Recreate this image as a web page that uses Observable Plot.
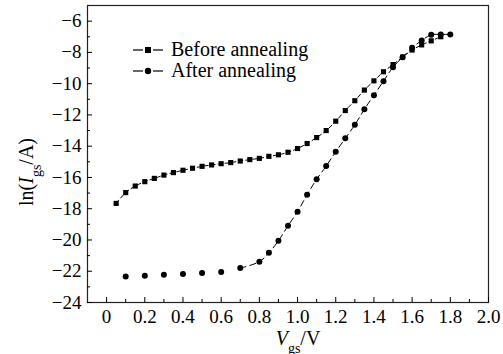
<!DOCTYPE html>
<html>
<head>
<meta charset="utf-8">
<script src="https://cdn.jsdelivr.net/npm/d3@7"></script>
<script src="https://cdn.jsdelivr.net/npm/@observablehq/plot@0.6"></script>
<style>
  html, body { margin: 0; padding: 0; background: #fff; }
  #wrap { position: relative; width: 503px; height: 354px; font-family: "Liberation Serif", "Times New Roman", serif; }
  #legend { position: absolute; left: 133px; top: 39px; font-size: 20px; line-height: 21px; color: #000; }
  #legend .row { display: flex; align-items: center; height: 21px; }
  #legend svg { margin-right: 5px; }
</style>
</head>
<body>
<div id="wrap"></div>
<script>
// Vgs (V) and ln(Igs/A)
const beforeV = [0.05,0.1,0.15,0.2,0.25,0.3,0.35,0.4,0.45,0.5,0.55,0.6,0.65,0.7,0.75,0.8,0.85,0.9,0.95,1.0,1.05,1.1,1.15,1.2,1.25,1.3,1.35,1.4,1.45,1.5,1.55,1.6,1.65,1.7,1.75];
const beforeLn = [-17.66,-16.97,-16.55,-16.27,-16.06,-15.85,-15.69,-15.54,-15.41,-15.29,-15.2,-15.12,-15.05,-14.95,-14.86,-14.78,-14.65,-14.55,-14.39,-14.15,-13.83,-13.45,-13.0,-12.4,-11.72,-11.09,-10.41,-9.82,-9.24,-8.78,-8.3,-7.85,-7.52,-7.26,-7.0];
const afterV = [0.1,0.2,0.3,0.4,0.5,0.6,0.7,0.8,0.85,0.9,0.95,1.0,1.05,1.1,1.15,1.2,1.25,1.3,1.35,1.4,1.45,1.5,1.55,1.6,1.65,1.7,1.75,1.8];
const afterLn = [-22.34,-22.29,-22.23,-22.18,-22.12,-22.05,-21.8,-21.39,-20.82,-20.05,-19.09,-18.19,-17.1,-16.12,-15.27,-14.36,-13.5,-12.63,-11.64,-10.74,-9.84,-8.95,-8.31,-7.71,-7.24,-6.87,-6.85,-6.85];
const seriesNames = ["Before annealing", "After annealing"];
const xTicks = [0,0.2,0.4,0.6,0.8,1.0,1.2,1.4,1.6,1.8,2.0];
const xMinor = [0.1,0.3,0.5,0.7,0.9,1.1,1.3,1.5,1.7,1.9];
const yTicks = [-24,-22,-20,-18,-16,-14,-12,-10,-8,-6];
const yMinor = [-23,-21,-19,-17,-15,-13,-11,-9,-7];
const xDomain = [-0.1, 2.0];
const yDomain = [-24, -5];
const afterLineStart = 0.7;

const before = beforeV.map((v, i) => ({v, ln: beforeLn[i]}));
const after = afterV.map((v, i) => ({v, ln: afterLn[i]}));
const afterLine = after.filter(d => d.v >= afterLineStart);

const fmtX = d => d === 0 ? "0" : d.toFixed(1);
const fmtY = d => String(d).replace("-", "\u2212");

const chart = Plot.plot({
  width: 503,
  height: 354,
  marginTop: 5,
  marginRight: 15,
  marginBottom: 52,
  marginLeft: 87,
  style: {fontFamily: "'Liberation Serif', 'Times New Roman', serif", fontSize: "19px", color: "#000", background: "#fff"},
  x: {domain: xDomain},
  y: {domain: yDomain},
  marks: [
    Plot.frame({stroke: "#222", strokeWidth: 1.2}),
    Plot.axisX(xTicks, {anchor: "bottom", tickSize: -5, tickPadding: 12, tickFormat: fmtX, fontSize: 19, label: null}),
    Plot.axisX(xMinor, {anchor: "bottom", tickSize: -3, text: null, label: null}),
    Plot.axisY(yTicks, {anchor: "left", tickSize: -5, tickPadding: 11, tickFormat: fmtY, fontSize: 19, label: null}),
    Plot.axisY(yMinor, {anchor: "left", tickSize: -3, text: null, label: null}),
    Plot.line(before, {x: "v", y: "ln", stroke: "#000", strokeWidth: 1, strokeDasharray: "4,3", curve: "catmull-rom"}),
    Plot.line(afterLine, {x: "v", y: "ln", stroke: "#000", strokeWidth: 1, strokeDasharray: "6,4", curve: "catmull-rom"}),
    Plot.dot(before, {x: "v", y: "ln", symbol: "square", r: 2.9, fill: "#000", stroke: "none"}),
    Plot.dot(after, {x: "v", y: "ln", symbol: "circle", r: 3, fill: "#000", stroke: "none"})
  ]
});

const wrap = document.getElementById("wrap");
wrap.appendChild(chart);

// axis titles with italic variable and subscript
const ns = "http://www.w3.org/2000/svg";
function addText(parts, attrs) {
  const t = document.createElementNS(ns, "text");
  for (const k in attrs) t.setAttribute(k, attrs[k]);
  t.setAttribute("font-family", "'Liberation Serif', 'Times New Roman', serif");
  t.setAttribute("fill", "#000");
  for (const p of parts) {
    const s = document.createElementNS(ns, "tspan");
    s.textContent = p.t;
    if (p.italic) s.setAttribute("font-style", "italic");
    if (p.sub) { s.setAttribute("baseline-shift", "sub"); s.setAttribute("font-size", "14"); }
    t.appendChild(s);
  }
  chart.appendChild(t);
}
addText([{t: "V", italic: true}, {t: "gs", sub: true}, {t: "/V"}],
  {x: 298, y: 345, "text-anchor": "middle", "font-size": 20});
addText([{t: "ln("}, {t: "I", italic: true}, {t: "gs", sub: true}, {t: "/A)"}],
  {transform: "translate(33,172) rotate(-90)", "text-anchor": "middle", "font-size": 20});

// legend
const legend = document.createElement("div");
legend.id = "legend";
const symbols = ["square", "circle"];
seriesNames.forEach((name, i) => {
  const row = document.createElement("div");
  row.className = "row";
  const marker = symbols[i] === "square"
    ? '<rect x="12" y="7" width="6" height="6" fill="#000"/>'
    : '<circle cx="15" cy="10" r="3.2" fill="#000"/>';
  row.innerHTML = `<svg width="33" height="20"><line x1="0" y1="10" x2="10" y2="10" stroke="#000" stroke-width="1.2"/>${marker}<line x1="20" y1="10" x2="30" y2="10" stroke="#000" stroke-width="1.2"/></svg><span>${name}</span>`;
  legend.appendChild(row);
});
wrap.appendChild(legend);
</script>
</body>
</html>
